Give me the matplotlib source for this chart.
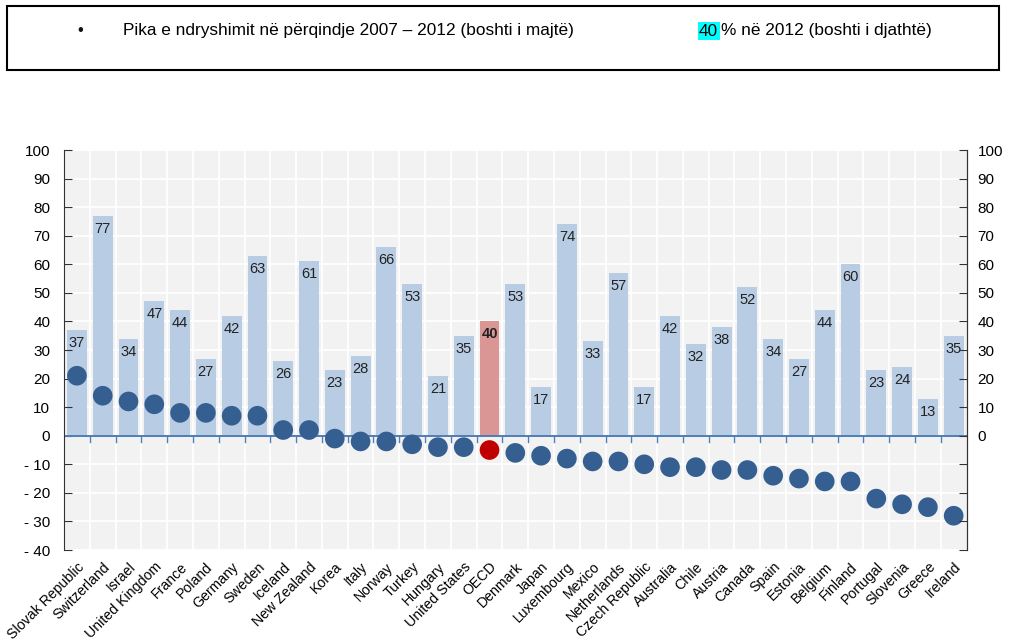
import matplotlib.pyplot as plt
from matplotlib.patches import Rectangle
import numpy as np

countries = ['Slovak Republic', 'Switzerland', 'Israel', 'United Kingdom', 'France',
             'Poland', 'Germany', 'Sweden', 'Iceland', 'New Zealand', 'Korea', 'Italy',
             'Norway', 'Turkey', 'Hungary', 'United States', 'OECD', 'Denmark', 'Japan',
             'Luxembourg', 'Mexico', 'Netherlands', 'Czech Republic', 'Australia', 'Chile',
             'Austria', 'Canada', 'Spain', 'Estonia', 'Belgium', 'Finland', 'Portugal',
             'Slovenia', 'Greece', 'Ireland']
# share in 2012 (right axis)
share_2012 = [37, 77, 34, 47, 44, 27, 42, 63, 26, 61, 23, 28, 66, 53, 21, 35, 40, 53, 17,
              74, 33, 57, 17, 42, 32, 38, 52, 34, 27, 44, 60, 23, 24, 13, 35]
# percentage point change 2007-2012 (left axis)
change = [21, 14, 12, 11, 8, 8, 7, 7, 2, 2, -1, -2, -2, -3, -4, -4, -5, -6, -7,
          -8, -9, -9, -10, -11, -11, -12, -12, -14, -15, -16, -16, -22, -24, -25, -28]
left_ticks = [100, 90, 80, 70, 60, 50, 40, 30, 20, 10, 0, -10, -20, -30, -40]
right_ticks = [100, 90, 80, 70, 60, 50, 40, 30, 20, 10, 0]

legend_left = 'Pika e ndryshimit në përqindje 2007 – 2012 (boshti i majtë)'
legend_right = '% në 2012 (boshti i djathtë)'

plt.rcParams['font.family'] = ['Liberation Sans', 'DejaVu Sans']

bar_col = '#b8cce4'
dot_col = '#355f91'
oecd = countries.index('OECD')
bar_cols = [bar_col] * len(countries)
bar_cols[oecd] = '#da9694'
dot_cols = [dot_col] * len(countries)
dot_cols[oecd] = '#c00000'

fig = plt.figure(figsize=(10.1, 6.43), dpi=100)
ax = fig.add_axes([0.0634, 0.1446, 0.8936, 0.6221])
ax.set_facecolor('#f2f2f2')
x = np.arange(len(countries))

ax.set_xlim(-0.5, len(countries) - 0.5)
ax.set_ylim(-40, 100)

# white grid behind everything
for v in left_ticks:
    ax.axhline(v, color='white', lw=1.3, zorder=0)
for b in np.arange(0.5, len(countries) - 0.5, 1):
    ax.axvline(b, color='white', lw=1.3, zorder=0)

ax.bar(x, share_2012, width=0.77, color=bar_cols, zorder=1)
for xi, v in zip(x, share_2012):
    ax.annotate(str(v), (xi, v), xytext=(0, -13), textcoords='offset pixels',
                ha='center', va='center', fontsize=10.5, color='#222222', zorder=3,
                fontweight='bold' if xi == oecd else 'normal')

ax.axhline(0, color='#4f7db5', lw=1.4, zorder=2)
for b in np.arange(0.5, len(countries) - 0.5, 1):
    ax.plot([b, b], [0, -2.2], color='#4f7db5', lw=1, zorder=2)

ax.scatter(x, change, s=200, c=dot_cols, zorder=4, linewidths=0)

ax.set_xticks(x)
ax.set_xticklabels(countries, rotation=45, ha='right', rotation_mode='anchor', fontsize=10.2)
ax.tick_params(axis='x', length=0, pad=7)

ax.set_yticks(left_ticks)
ax.set_yticklabels([str(v) if v >= 0 else '- ' + str(-v) for v in left_ticks], fontsize=11)
ax.tick_params(axis='y', direction='in', length=6, color='#333333', pad=10)

for s in ['top', 'bottom']:
    ax.spines[s].set_visible(False)
ax.spines['left'].set_color('#333333')
ax.spines['right'].set_color('#333333')

ax2 = ax.twinx()
ax2.set_ylim(-40, 100)
ax2.set_yticks(left_ticks)
ax2.set_yticklabels([str(v) if v in right_ticks else '' for v in left_ticks], fontsize=11)
ax2.tick_params(axis='y', direction='in', length=6, color='#333333', pad=8)
for s in ['top', 'bottom', 'left']:
    ax2.spines[s].set_visible(False)
ax2.spines['right'].set_color('#333333')

# legend box
fig.patches.append(Rectangle((7 / 1010, 1 - 70 / 643), 992 / 1010, 64 / 643,
                             transform=fig.transFigure, fill=False, ec='black', lw=1.5))
fig.text(80 / 1010, 1 - 31 / 643, '•', fontsize=12, ha='center', va='center', color='#111111')
fig.text(123 / 1010, 1 - 31 / 643, legend_left, fontsize=12.4, va='center')
fig.text(699 / 1010, 1 - 31 / 643, '40', fontsize=12.4, va='center',
         bbox=dict(boxstyle='square,pad=0.08', fc='#00ffff', ec='none'))
fig.text(721 / 1010, 1 - 31 / 643, legend_right, fontsize=12.4, va='center')

fig.savefig('out.png', dpi=100)
